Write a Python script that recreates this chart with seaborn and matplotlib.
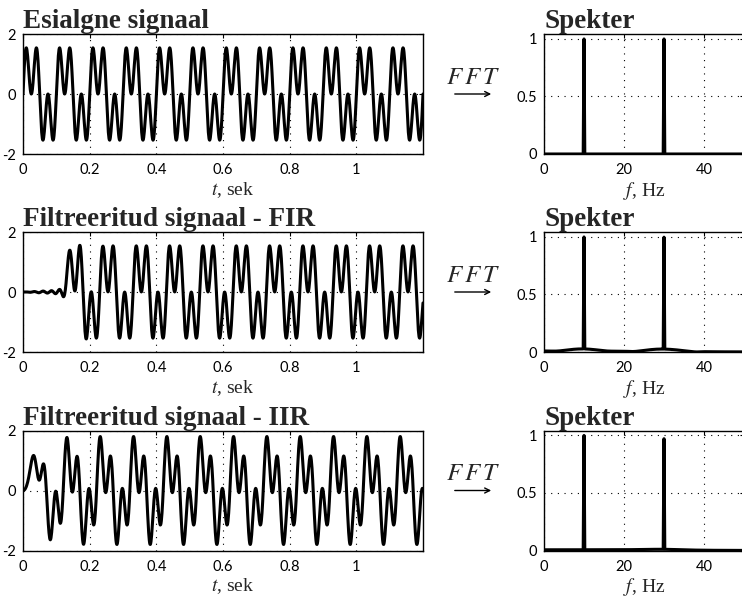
import numpy as np
import pandas as pd
import seaborn as sns
import matplotlib
matplotlib.use("Agg")
import matplotlib.pyplot as plt
from matplotlib.patches import FancyArrowPatch

# ---- sampling -------------------------------------------------------------
fs = 1000.0          # Hz
duration = 5.0       # s of signal fed to the FFT
t_view = 1.2         # s shown in the time plots

# ---- input signal: sum of two sinusoids ------------------------------------
comp_freq = [10.0, 30.0]   # Hz
comp_amp = [1.0, 1.0]

# ---- FIR low-pass (Kaiser-windowed sinc) ----------------------------------
fir_taps = 261
fir_cutoff = 40.0          # Hz
fir_kaiser_beta = 2.5

# ---- IIR output: steady-state gain/phase per component, start-up constants
iir_gain = [1.0, 0.98]
iir_phase_deg = [-57.0, -241.0]
iir_phase_settle = 0.015    # s, phase lag builds up
iir_amp_settle = [0.0, 0.025]  # s, amplitude build-up per component

# ---- text -------------------------------------------------------------------
time_titles = ["Esialgne signaal", "Filtreeritud signaal - FIR",
               "Filtreeritud signaal - IIR"]
spec_title = "Spekter"
time_ticks = [0, 0.2, 0.4, 0.6, 0.8, 1.0]
time_ticklabels = ["0", "0.2", "0.4", "0.6", "0.8", "1"]
amp_ticks = [-2, 0, 2]
amp_ticklabels = ["-2", "0", "2"]
freq_ticks = [0, 20, 40]
freq_ticklabels = ["0", "20", "40"]
spec_ticks = [0, 0.5, 1]
spec_ticklabels = ["0", "0.5", "1"]

# ---- signals ----------------------------------------------------------------
t = np.arange(int(round(fs * duration))) / fs
x = sum(a * np.sin(2 * np.pi * f * t) for f, a in zip(comp_freq, comp_amp))

n = np.arange(fir_taps) - (fir_taps - 1) / 2
h = (2 * fir_cutoff / fs) * np.sinc(2 * fir_cutoff / fs * n) \
    * np.kaiser(fir_taps, fir_kaiser_beta)
h /= h.sum()
y_fir = np.convolve(x, h)[: len(t)]


def build_up(tt, tau):
    if tau <= 0:
        return np.ones_like(tt)
    u = tt / tau
    return 1 - np.exp(-u) * (1 + u)


lag = 1 - np.exp(-t / iir_phase_settle)
y_iir = np.zeros_like(t)
for f, a, g, p, tau in zip(comp_freq, comp_amp, iir_gain, iir_phase_deg,
                           iir_amp_settle):
    y_iir += a * g * build_up(t, tau) * np.sin(2 * np.pi * f * t
                                                + np.deg2rad(p) * lag)

signals = [x, y_fir, y_iir]


def spectrum(sig):
    mag = np.abs(np.fft.rfft(sig))
    f = np.fft.rfftfreq(len(sig), 1 / fs)
    keep = f <= 50
    return f[keep], mag[keep] / mag.max()


# ---- style -------------------------------------------------------------------
sns.set_style("white")
plt.rcParams["font.family"] = ["Lato", "DejaVu Sans"]
plt.rcParams["mathtext.fontset"] = "stix"
SERIF = "Liberation Serif"

W, H = 742, 600
fig = plt.figure(figsize=(W / 100, H / 100), dpi=100)

row_px = [(34, 154), (232, 352), (430.5, 550.5)]
left_box = (23, 423)
right_box = (544, 744)

grid_kw = dict(color="black", linestyle=(0, (1, 5)), linewidth=0.8)


def make_axes(box, rows):
    x0, x1 = box
    top, bot = rows
    return fig.add_axes([x0 / W, 1 - bot / H, (x1 - x0) / W, (bot - top) / H])


def style_axes(ax):
    for sp in ax.spines.values():
        sp.set_visible(True)
        sp.set_color("black")
        sp.set_linewidth(1.0)
    ax.tick_params(direction="in", length=3, width=0.8, top=True, right=True,
                   labelsize=10.5, colors="black")
    ax.tick_params(axis="x", pad=6.5)
    ax.tick_params(axis="y", pad=5)


view = t <= t_view
for i in range(3):
    # time domain
    ax = make_axes(left_box, row_px[i])
    df = pd.DataFrame({"t": t[view], "y": signals[i][view]})
    sns.lineplot(data=df, x="t", y="y", ax=ax, color="black", linewidth=2.2,
                 estimator=None)
    ax.set_xlim(0, t_view)
    ax.set_ylim(-2, 2)
    ax.set_xticks(time_ticks, time_ticklabels)
    ax.set_yticks(amp_ticks, amp_ticklabels)
    ax.grid(True, **grid_kw)
    style_axes(ax)
    ax.set_ylabel("")
    ax.set_xlabel(r"$t$, sek", fontsize=14, family=SERIF)
    ax.xaxis.set_label_coords(0.524, -0.215)
    ax.set_title(time_titles[i], loc="left", fontsize=19.5, fontweight="bold",
                 family=SERIF, pad=4.3)

    # spectrum
    axs = make_axes(right_box, row_px[i])
    f, mag = spectrum(signals[i])
    sdf = pd.DataFrame({"f": f, "m": mag})
    sns.lineplot(data=sdf, x="f", y="m", ax=axs, color="black", linewidth=2.2,
                 estimator=None)
    axs.set_xlim(0, 50)
    axs.set_ylim(0, 1.043)
    axs.set_xticks(freq_ticks, freq_ticklabels)
    axs.set_yticks(spec_ticks, spec_ticklabels)
    axs.grid(True, **grid_kw)
    style_axes(axs)
    axs.set_ylabel("")
    axs.set_xlabel(r"$f$, Hz", fontsize=14, family=SERIF)
    axs.xaxis.set_label_coords(0.5, -0.215)
    axs.set_title(spec_title, loc="left", fontsize=19.5, fontweight="bold",
                  family=SERIF, pad=4.3)

    # FFT arrow between the panels
    top, bot = row_px[i]
    mid = (top + bot) / 2
    fig.text(473 / W, 1 - (mid - 18) / H, r"$F\,F\,T$", ha="center", va="center",
             fontsize=18)
    fig.add_artist(FancyArrowPatch((452 / W, 1 - mid / H), (494 / W, 1 - mid / H),
                                   transform=fig.transFigure, arrowstyle="->",
                                   mutation_scale=9, linewidth=1.0, color="black"))

fig.savefig("out.png", dpi=100)
